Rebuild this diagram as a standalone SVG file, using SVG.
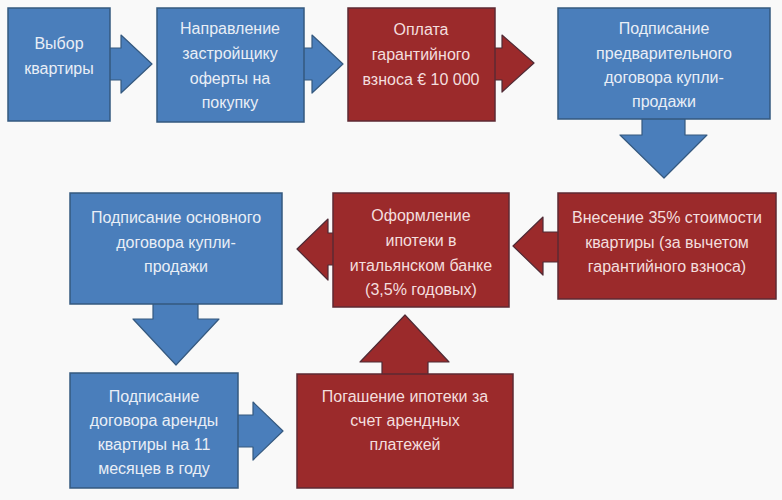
<svg xmlns="http://www.w3.org/2000/svg" width="782" height="500" viewBox="0 0 782 500">
<style>
.blue{fill:#4a7ebb;stroke:#35597f;stroke-width:1.5}
.red{fill:#9b2a2b;stroke:#5e2a33;stroke-width:1.5}
.ab{fill:#4a7ebb;stroke:#35597f;stroke-width:1.2;stroke-linejoin:round}
.ar{fill:#9b2a2b;stroke:#4f2a35;stroke-width:1.2;stroke-linejoin:round}
text{font-family:"Liberation Sans","DejaVu Sans",sans-serif;font-size:16px;text-anchor:middle}
.tb{fill:#e9eef6}
.tr{fill:#f3dede}
</style>
<rect width="782" height="500" fill="#f9f9f9"/>
<g id="connectors">
<polygon class="ab" points="108,48 121,48 121,35 152,64 121,93 121,80 108,80"/>
<polygon class="ab" points="302,48 312,48 312,35 343,64 312,93 312,80 302,80"/>
<polygon class="ar" points="493,48 502,48 502,35 534,63 502,92 502,80 493,80"/>
<polygon class="ab" points="642,116 685,116 685,135 707,135 664,178 620,135 642,135"/>
<polygon class="ar" points="560,232 543,232 543,217 513,246 543,275 543,262 560,262"/>
<polygon class="ar" points="335,233 328,233 328,219 297,249 328,280 328,265 335,265"/>
<polygon class="ab" points="153,301 198,301 198,319 219,319 176,365 133,319 153,319"/>
<polygon class="ab" points="236,415 253,415 253,402 283,431 253,460 253,447 236,447"/>
<polygon class="ar" points="382,377 382,362 360,362 405,315 449,362 428,362 428,377"/>
</g>
<g id="n1"><rect class="blue" x="8" y="8" width="102" height="113"/>
<text class="tb" x="59" y="49">Выбор</text><text class="tb" x="59" y="74">квартиры</text></g>
<g id="n2"><rect class="blue" x="157" y="8" width="147" height="114"/>
<text class="tb" x="230" y="34">Направление</text><text class="tb" x="230" y="59">застройщику</text><text class="tb" x="230" y="84">оферты на</text><text class="tb" x="230" y="108">покупку</text></g>
<g id="n3"><rect class="red" x="348" y="8" width="147" height="113"/>
<text class="tr" x="421" y="35">Оплата</text><text class="tr" x="421" y="60">гарантийного</text><text class="tr" x="421" y="85">взноса € 10 000</text></g>
<g id="n4"><rect class="blue" x="558" y="8" width="212" height="111"/>
<text class="tb" x="664" y="34">Подписание</text><text class="tb" x="664" y="59">предварительного</text><text class="tb" x="664" y="83">договора купли-</text><text class="tb" x="664" y="107">продажи</text></g>
<g id="n5"><rect class="blue" x="70" y="193" width="212" height="111"/>
<text class="tb" x="176" y="223">Подписание основного</text><text class="tb" x="176" y="248">договора купли-</text><text class="tb" x="176" y="272">продажи</text></g>
<g id="n6"><rect class="red" x="333" y="193" width="176" height="114"/>
<text class="tr" x="421" y="221">Оформление</text><text class="tr" x="421" y="246">ипотеки в</text><text class="tr" x="421" y="271">итальянском банке</text><text class="tr" x="421" y="295">(3,5% годовых)</text></g>
<g id="n7"><rect class="red" x="558" y="193" width="218" height="106"/>
<text class="tr" x="667" y="223">Внесение 35% стоимости</text><text class="tr" x="667" y="248">квартиры (за вычетом</text><text class="tr" x="667" y="272">гарантийного взноса)</text></g>
<g id="n8"><rect class="blue" x="70" y="373" width="168" height="115"/>
<text class="tb" x="154" y="402">Подписание</text><text class="tb" x="154" y="426">договора аренды</text><text class="tb" x="154" y="450">квартиры на 11</text><text class="tb" x="154" y="474">месяцев в году</text></g>
<g id="n9"><rect class="red" x="297" y="374" width="216" height="114"/>
<text class="tr" x="405" y="402">Погашение ипотеки за</text><text class="tr" x="405" y="426">счет арендных</text><text class="tr" x="405" y="450">платежей</text></g>
</svg>
